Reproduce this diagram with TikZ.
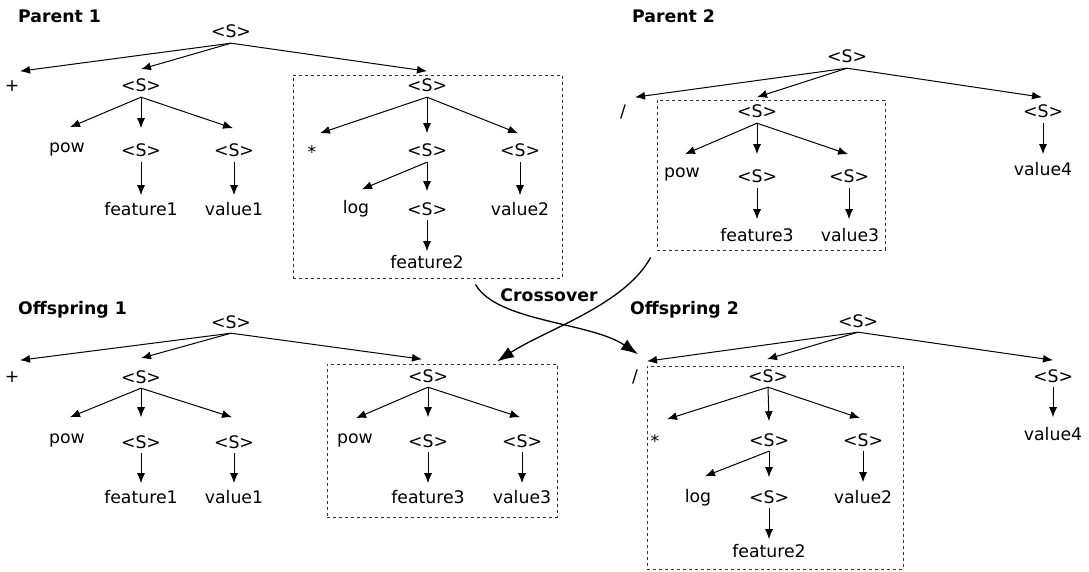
\documentclass[tikz,border=0pt]{standalone}
\usepackage{fontspec}
\setmainfont{DejaVu Sans}
\usetikzlibrary{arrows.meta}
\newcommand{\treefont}{\fontsize{17.3}{20}\selectfont}
\definecolor{boxcolor}{HTML}{333333}

\tikzset{
    lbl/.style={font=\treefont, inner sep=0pt, text height=12.6pt, text depth=0pt, anchor=base},
    title/.style={font=\treefont\bfseries, inner sep=0pt, anchor=base west},
    arr/.style={-{Latex[length=10pt,width=8pt]}, line width=1pt},
    cross/.style={-{Latex[length=17pt,width=12pt]}, line width=1.3pt},
    subtree/.style={draw=boxcolor, dash pattern=on 3pt off 3pt, line width=0.9pt, inner sep=0pt}
}

\begin{document}
\begin{tikzpicture}[x=1pt, y=-1pt]

    \useasboundingbox (0, 0) rectangle (1089, 572);

    % Parent 1
    \node[title] (t1) at (18, 23) {Parent 1};
    \node[lbl] (p1r) at (231, 38) {<S>};
    \node[lbl] (p1plus) at (12, 92) {+};
    \node[lbl] (p1s) at (141, 92) {<S>};
    \node[lbl] (p1pow) at (67, 153) {pow};
    \node[lbl] (p1sa) at (141, 157) {<S>};
    \node[lbl] (p1sb) at (234, 157) {<S>};
    \node[lbl] (p1f1) at (141, 215) {feature1};
    \node[lbl] (p1v1) at (234, 215) {value1};
    % subtree that gets swapped
    \node[subtree, minimum width=269pt, minimum height=203pt] (p1box) at (427.5, 176.5) {};
    \node[lbl] (p1b) at (427, 92) {<S>};
    \node[lbl] (p1star) at (312, 159) {*};
    \node[lbl] (p1bs) at (427, 157) {<S>};
    \node[lbl] (p1bt) at (520, 157) {<S>};
    \node[lbl] (p1log) at (356, 214) {log};
    \node[lbl] (p1bu) at (427, 215) {<S>};
    \node[lbl] (p1v2) at (520, 215) {value2};
    \node[lbl] (p1f2) at (427, 268) {feature2};

    \foreach \pa/\ch/\dx/\dy in {p1r/p1plus/8/8, p1r/p1s/0/10, p1r/p1b/0/8,
        p1s/p1pow/3/13, p1s/p1sa/0/16, p1s/p1sb/-1/16, p1sa/p1f1/0/7, p1sb/p1v1/0/7,
        p1b/p1star/8/13, p1b/p1bs/0/11, p1b/p1bt/-2/11, p1bs/p1log/6/12,
        p1bs/p1bu/0/11, p1bt/p1v2/0/7, p1bu/p1f2/0/4} {
        \draw[arr] ([yshift=-5pt]\pa.south) -- ([shift={(\dx pt,\dy pt)}]\ch.north);
    }

    % Parent 2
    \node[title] (t2) at (632, 23) {Parent 2};
    \node[lbl] (p2r) at (847, 63) {<S>};
    \node[lbl] (p2sl) at (623, 118) {/};
    \node[lbl] (p2q) at (1043, 118) {<S>};
    \node[lbl] (p2v4) at (1043, 176) {value4};
    % subtree that gets swapped
    \node[subtree, minimum width=228pt, minimum height=150pt] (p2box) at (771, 175) {};
    \node[lbl] (p2s) at (757, 118) {<S>};
    \node[lbl] (p2pow) at (682, 178) {pow};
    \node[lbl] (p2sa) at (757, 183) {<S>};
    \node[lbl] (p2sb) at (849, 183) {<S>};
    \node[lbl] (p2f3) at (757, 241) {feature3};
    \node[lbl] (p2v3) at (850, 241) {value3};

    \foreach \pa/\ch/\dx/\dy in {p2r/p2sl/12/8, p2r/p2s/0/8, p2r/p2q/-1/8,
        p2s/p2pow/3/11, p2s/p2sa/0/16, p2s/p2sb/-1/16, p2sa/p2f3/0/9,
        p2sb/p2v3/-1/9, p2q/p2v4/0/9} {
        \draw[arr] ([yshift=-5pt]\pa.south) -- ([shift={(\dx pt,\dy pt)}]\ch.north);
    }

    % Offspring 1
    \node[title] (t3) at (18, 314) {Offspring 1};
    \node[lbl] (o1r) at (231, 328) {<S>};
    \node[lbl] (o1plus) at (12, 382) {+};
    \node[lbl] (o1s) at (141, 383) {<S>};
    \node[lbl] (o1pow) at (67, 443) {pow};
    \node[lbl] (o1sa) at (141, 448) {<S>};
    \node[lbl] (o1sb) at (234, 448) {<S>};
    \node[lbl] (o1f1) at (141, 503) {feature1};
    \node[lbl] (o1v1) at (234, 503) {value1};
    % subtree from parent 2
    \node[subtree, minimum width=230pt, minimum height=153pt] (o1box) at (442, 440.5) {};
    \node[lbl] (o1b) at (428, 382) {<S>};
    \node[lbl] (o1pow2) at (355, 443) {pow};
    \node[lbl] (o1bs) at (428, 447) {<S>};
    \node[lbl] (o1bt) at (522, 447) {<S>};
    \node[lbl] (o1f3) at (428, 503) {feature3};
    \node[lbl] (o1v3) at (522, 503) {value3};

    \foreach \pa/\ch/\dx/\dy in {o1r/o1plus/8/9, o1r/o1s/0/12, o1r/o1b/-6/10,
        o1s/o1pow/3/13, o1s/o1sa/0/18, o1s/o1sb/-2/18, o1sa/o1f1/0/7, o1sb/o1v1/0/7,
        o1b/o1pow2/1/12, o1b/o1bs/0/17, o1b/o1bt/-2/17, o1bs/o1f3/0/7, o1bt/o1v3/0/7} {
        \draw[arr] ([yshift=-5pt]\pa.south) -- ([shift={(\dx pt,\dy pt)}]\ch.north);
    }

    % Offspring 2
    \node[title] (t4) at (630, 314) {Offspring 2};
    \node[lbl] (o2r) at (858, 327) {<S>};
    \node[lbl] (o2sl) at (635, 382) {/};
    \node[lbl] (o2q) at (1053, 382) {<S>};
    \node[lbl] (o2v4) at (1053, 440) {value4};
    % subtree from parent 1
    \node[subtree, minimum width=256pt, minimum height=203pt] (o2box) at (775, 467.5) {};
    \node[lbl] (o2s) at (768, 382) {<S>};
    \node[lbl] (o2star) at (655, 447) {*};
    \node[lbl] (o2bs) at (769, 446) {<S>};
    \node[lbl] (o2bt) at (863, 446) {<S>};
    \node[lbl] (o2log) at (698, 502) {log};
    \node[lbl] (o2bu) at (769, 503) {<S>};
    \node[lbl] (o2v2) at (863, 503) {value2};
    \node[lbl] (o2f2) at (769, 557) {feature2};

    \foreach \pa/\ch/\dx/\dy in {o2r/o2sl/12/8, o2r/o2s/-1/10, o2r/o2q/0/9, o2q/o2v4/0/10,
        o2s/o2star/12/15, o2s/o2bs/0/12, o2s/o2bt/-3/15, o2bs/o2log/7/13,
        o2bs/o2bu/0/13, o2bt/o2v2/0/8, o2bu/o2f2/0/5} {
        \draw[arr] ([yshift=-5pt]\pa.south) -- ([shift={(\dx pt,\dy pt)}]\ch.north);
    }

    % Crossover
    \node[title, anchor=base] (xlbl) at (549, 301) {Crossover};
    \draw[cross] ([xshift=48pt, yshift=-6pt]p1box.south) .. controls (497, 322) and (590, 322) .. ([shift={(3pt,15pt)}]o2sl.north);
    \draw[cross] ([xshift=-6pt, yshift=-7pt]p2box.south west) .. controls (625, 305) and (545, 330) .. ([xshift=55pt, yshift=2pt]o1box.north);

\end{tikzpicture}
\end{document}
